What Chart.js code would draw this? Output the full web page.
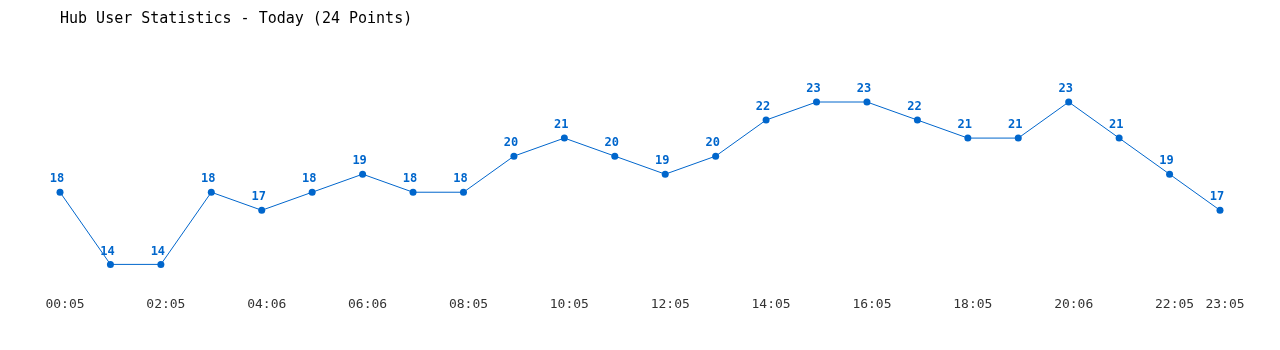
<!DOCTYPE html>
<html>
<head>
<meta charset="utf-8">
<title>Hub User Statistics</title>
<script src="https://cdn.jsdelivr.net/npm/chart.js@4.4.0/dist/chart.umd.min.js"></script>
<style>
  html, body { margin: 0; padding: 0; background: #fff; }
  #wrap { width: 1280px; height: 350px; }
</style>
</head>
<body>
<div id="wrap"><canvas id="chartUsuarios"></canvas></div>
<script>
const horas = ['00:05', '01:05', '02:05', '03:05', '04:06', '05:06', '06:06', '07:05',
  '08:05', '09:05', '10:05', '11:05', '12:05', '13:05', '14:05', '15:05',
  '16:05', '17:05', '18:05', '19:05', '20:06', '21:05', '22:05', '23:05'];
const usuarios = [18, 14, 14, 18, 17, 18, 19, 18, 18, 20, 21, 20, 19, 20, 22, 23, 23, 22, 21, 21, 23, 21, 19, 17];
const titulo = 'Hub User Statistics - Today (24 Points)';

const azul = '#0066cc';
const fuenteMono = '"DejaVu Sans Mono", "Liberation Mono", monospace';

// etiquetas de valor encima de cada punto
const etiquetasValor = {
  id: 'etiquetasValor',
  afterDatasetsDraw(chart) {
    const ctx = chart.ctx;
    const meta = chart.getDatasetMeta(0);
    ctx.save();
    ctx.font = 'bold 12px ' + fuenteMono;
    ctx.fillStyle = azul;
    ctx.textAlign = 'center';
    ctx.textBaseline = 'middle';
    meta.data.forEach((p, i) => {
      ctx.fillText(String(usuarios[i]), p.x - 3, p.y - 13);
    });
    ctx.restore();
  }
};

new Chart(document.getElementById('chartUsuarios'), {
  type: 'line',
  data: {
    labels: horas,
    datasets: [{
      data: usuarios,
      borderColor: azul,
      backgroundColor: azul,
      borderWidth: 1,
      pointRadius: 3.5,
      pointBorderWidth: 0,
      pointBackgroundColor: azul,
      tension: 0,
      fill: false,
      clip: false
    }]
  },
  options: {
    responsive: true,
    maintainAspectRatio: false,
    animation: false,
    layout: { padding: { left: 60, right: 60, top: 0, bottom: 6 } },
    plugins: {
      legend: { display: false },
      tooltip: { enabled: false },
      title: {
        display: true,
        text: titulo,
        align: 'start',
        color: '#000',
        font: { family: fuenteMono, size: 15, weight: 'normal' },
        padding: { top: 10, bottom: 74 }
      }
    },
    scales: {
      x: {
        offset: false,
        grid: { display: false, drawTicks: false },
        border: { display: false },
        ticks: {
          autoSkip: false,
          maxRotation: 0,
          labelOffset: 5,
          padding: 32,
          color: '#333',
          font: { family: fuenteMono, size: 13 },
          callback: function(val, i) {
            return (i % 2 === 0 || i === horas.length - 1) ? horas[i] : '';
          }
        }
      },
      y: {
        display: false,
        min: 14,
        max: 23
      }
    }
  },
  plugins: [etiquetasValor]
});
</script>
</body>
</html>
